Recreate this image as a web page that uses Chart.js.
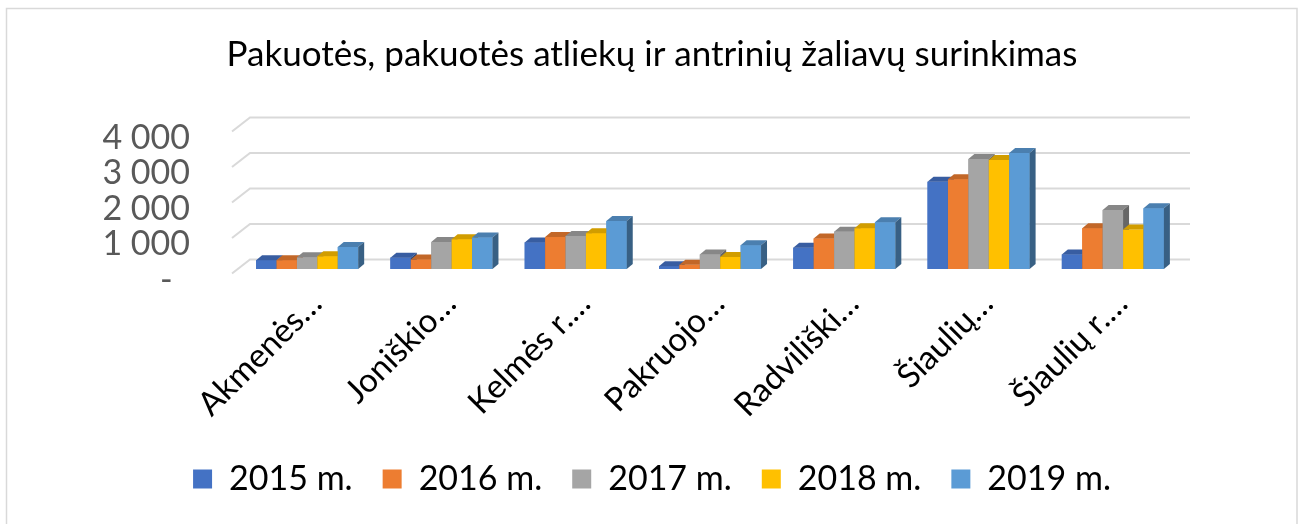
<!DOCTYPE html>
<html>
<head>
<meta charset="utf-8">
<script src="https://cdn.jsdelivr.net/npm/chart.js@4"></script>
<style>
html,body{margin:0;padding:0;background:#fff;}
#wrap{position:relative;width:1304px;height:524px;}
</style>
</head>
<body>
<div id="wrap"><canvas id="c" width="1304" height="524"></canvas></div>
<script>
const categories = ["Akmenės…", "Joniškio…", "Kelmės r.…", "Pakruojo…", "Radviliški…", "Šiaulių…", "Šiaulių r.…"];
const seriesNames = ["2015 m.", "2016 m.", "2017 m.", "2018 m.", "2019 m."];
const v2015 = [250, 320, 750, 80, 600, 2460, 410];
const v2016 = [250, 270, 900, 120, 860, 2530, 1150];
const v2017 = [330, 760, 930, 410, 1050, 3100, 1660];
const v2018 = [360, 840, 1010, 340, 1150, 3070, 1110];
const v2019 = [620, 890, 1350, 670, 1320, 3270, 1710];
const yTicks = [0, 1000, 2000, 3000, 4000];
const colors = ["#4472C4", "#ED7D31", "#A5A5A5", "#FFC000", "#5B9BD5"];

const FONT = "Lato, 'Open Sans', sans-serif";
const DX = 6, DY = 5;

function shade(hex, f) {
  const n = parseInt(hex.slice(1), 16);
  const r = Math.round(((n >> 16) & 255) * f), g = Math.round(((n >> 8) & 255) * f), b = Math.round((n & 255) * f);
  return `rgb(${r},${g},${b})`;
}

const seriesValues = [v2015, v2016, v2017, v2018, v2019];
const datasets = seriesValues.map((vals, i) => ({
  label: seriesNames[i],
  data: vals,
  backgroundColor: colors[i],
  borderWidth: 0,
  categoryPercentage: 0.76,
  barPercentage: 1.0
}));

const frame = {
  id: 'frame',
  beforeDraw(chart) {
    const ctx = chart.ctx;
    ctx.save();
    ctx.fillStyle = '#fff';
    ctx.fillRect(0, 0, chart.width, chart.height);
    ctx.strokeStyle = '#d9d9d9';
    ctx.lineWidth = 1.5;
    ctx.strokeRect(6.5, 8.5, 1290.5, 530);
    ctx.restore();
  },
  beforeDatasetsDraw(chart) {
    const ctx = chart.ctx, ys = chart.scales.y, a = chart.chartArea;
    ctx.save();
    ctx.strokeStyle = '#d9d9d9';
    ctx.lineWidth = 2;
    ys.ticks.forEach(t => {
      const yb = ys.getPixelForValue(t.value);
      ctx.beginPath();
      ctx.moveTo(a.left - 8, yb + 4.5);
      ctx.lineTo(a.left + 10, yb - 9.5);
      ctx.lineTo(a.right + 10, yb - 9.5);
      ctx.stroke();
    });
    ctx.restore();
  },
  afterDatasetsDraw(chart) {
    // redraw bars left-to-right within each group so 3D side faces are hidden correctly
    const ctx = chart.ctx;
    ctx.save();
    for (let i = 0; i < chart.data.datasets.length; i++) {
      const meta = chart.getDatasetMeta(i);
      const col = colors[i];
      meta.data.forEach(bar => {
        bar.draw(ctx, chart.chartArea);
        const p = bar.getProps(['x', 'y', 'base', 'width'], true);
        const l = p.x - p.width / 2, r = p.x + p.width / 2;
        ctx.fillStyle = shade(col, 0.82);
        ctx.beginPath();
        ctx.moveTo(l, p.y);
        ctx.lineTo(l + DX, p.y - DY);
        ctx.lineTo(r + DX, p.y - DY);
        ctx.lineTo(r, p.y);
        ctx.closePath();
        ctx.fill();
        ctx.fillStyle = shade(col, 0.62);
        ctx.beginPath();
        ctx.moveTo(r, p.y);
        ctx.lineTo(r + DX, p.y - DY);
        ctx.lineTo(r + DX, p.base - DY);
        ctx.lineTo(r, p.base);
        ctx.closePath();
        ctx.fill();
      });
    }
    ctx.restore();
  }
};

new Chart(document.getElementById('c'), {
  type: 'bar',
  data: { labels: categories, datasets },
  plugins: [frame],
  options: {
    responsive: false,
    animation: false,
    layout: { padding: { left: 0, right: 0, top: 0, bottom: 18 } },
    plugins: {
      title: {
        display: true,
        text: 'Pakuotės, pakuotės atliekų ir antrinių žaliavų surinkimas',
        color: '#000',
        font: { family: FONT, size: 35, weight: 'normal' },
        padding: { top: 34, bottom: 51 }
      },
      legend: {
        position: 'bottom',
        labels: {
          color: '#000',
          font: { family: FONT, size: 34 },
          boxWidth: 19,
          boxHeight: 19,
          padding: 30,
          sort: (a, b) => a.datasetIndex - b.datasetIndex
        }
      },
      tooltip: { enabled: false }
    },
    scales: {
      x: {
        grid: { display: false, drawTicks: false },
        border: { display: false },
        ticks: {
          color: '#000',
          font: { family: FONT, size: 33 },
          maxRotation: 45,
          minRotation: 45,
          autoSkip: false,
          labelOffset: 9,
          padding: 15
        },
        afterFit(s) { s.height = 163; }
      },
      y: {
        min: 0,
        max: 4000,
        afterBuildTicks(s) { s.ticks = yTicks.map(v => ({ value: v })); },
        grid: { display: false, drawTicks: false },
        border: { display: false },
        ticks: {
          color: '#595959',
          font: { family: FONT, size: 34 },
          autoSkip: false,
          padding: 50,
          labelOffset: 11,
          callback: v => v === 0 ? '-  ' : String(v).replace(/\B(?=(\d{3})+(?!\d))/g, ' ')
        },
        afterFit(s) { s.width = 240; }
      },
      rightSpace: {
        type: 'linear',
        position: 'right',
        display: true,
        grid: { display: false, drawTicks: false },
        border: { display: false },
        ticks: { display: false },
        afterFit(s) { s.width = 124; }
      }
    }
  }
});
</script>
</body>
</html>
